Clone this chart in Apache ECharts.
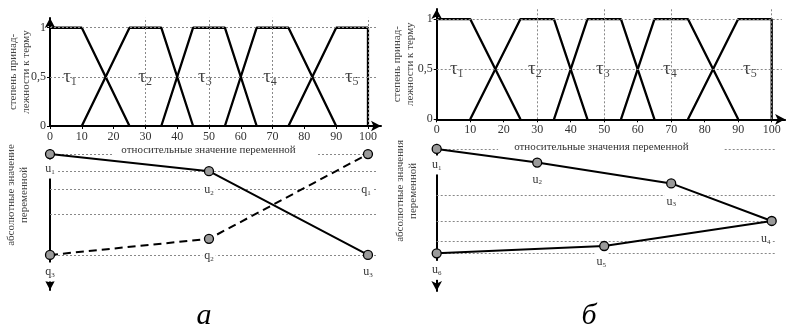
<!DOCTYPE html>
<html><head><meta charset="utf-8">
<script src="https://cdn.jsdelivr.net/npm/echarts@6/dist/echarts.min.js"></script>
<style>html,body{margin:0;padding:0;background:#fff}#c{width:791px;height:331px}</style>
</head><body><div id="c"></div>
<script>
// ---------------- data ----------------
const xTicks = [0, 10, 20, 30, 40, 50, 60, 70, 80, 90, 100];
const yTicks = [0, 0.5, 1];
// membership functions (terms)
const tau1X = [0, 10, 25],          tau1Y = [1, 1, 0];
const tau2X = [10, 25, 35, 45],     tau2Y = [0, 1, 1, 0];
const tau3X = [35, 45, 55, 65],     tau3Y = [0, 1, 1, 0];
const tau4X = [55, 65, 75, 90],     tau4Y = [0, 1, 1, 0];
const tau5X = [75, 90, 100, 100],   tau5Y = [0, 1, 1, 0];
const tauNames = ['1', '2', '3', '4', '5'];
const tauLabelXA = [6.3, 29.9, 48.7, 69.2, 94.9];
const tauLabelXB = [6, 29.3, 49.6, 69.6, 93.5];
const tauLabelY = 0.5;
// panel а, absolute values
const uAX = [0, 50, 100], uAY = [100, 83, 0], uANames = ['1', '2', '3'];
const qAX = [0, 50, 100], qAY = [0, 16, 100], qANames = ['3', '2', '1'];
// panel б, absolute values
const uBX = [0, 30, 70, 100, 50, 0], uBY = [100, 87, 67, 31, 7, 0], uBNames = ['1', '2', '3', '4', '5', '6'];
// reference (dotted) lines
const vGrid = [30, 50, 70, 100];
const hGridTop = [0.5, 1];
const hGridA = [100, 83, 65, 40, 0];
const hGridB = [100, 56, 31, 12, 0];

// ---------------- styles / layout ----------------
const FONT = 'Liberation Serif';
const labelOffA_u = [[0, 15], [0, 19], [0, 17]];
const labelOffA_q = [[0, 17], [0, 17], [-2, 36]];
const labelOffB_u = [[0, 16], [0, 17], [0, 18], [-6, 18], [-3, 16], [0, 17]];

function pts(xs, ys) { return xs.map((x, i) => [x, ys[i]]); }

function tauSeries(xs, ys, gi) {
  return { type: 'line', xAxisIndex: gi, yAxisIndex: gi, data: pts(xs, ys), symbol: 'none',
    lineStyle: { color: '#000', width: 2.3 }, z: 3, silent: true, animation: false };
}
function tauLabels(xsLab, gi) {
  return { type: 'scatter', xAxisIndex: gi, yAxisIndex: gi, z: 4, silent: true, animation: false,
    data: xsLab.map(x => [x, tauLabelY]), symbolSize: 1, itemStyle: { color: 'rgba(0,0,0,0)' },
    label: { show: true, position: 'inside', formatter: p => 'τ{s|' + tauNames[p.dataIndex] + '}',
      fontFamily: FONT, fontSize: 19, color: '#111', lineHeight: 22, backgroundColor: '#fff', padding: [0, 7],
      rich: { s: { fontFamily: FONT, fontSize: 12, lineHeight: 12, verticalAlign: 'bottom', color: '#111' } } } };
}
function ptSeries(xs, ys, names, letter, offs, gi, dashed) {
  return { type: 'line', xAxisIndex: gi, yAxisIndex: gi, clip: false, z: 5, animation: false, silent: true,
    data: xs.map((x, i) => ({ value: [x, ys[i]], label: { offset: offs[i] } })),
    symbol: 'circle', symbolSize: 9, showAllSymbol: true,
    itemStyle: { color: '#9a9a9a', borderColor: '#000', borderWidth: 1.3 },
    lineStyle: { color: '#000', width: 2, type: dashed ? [8, 5] : 'solid' },
    label: { show: true, position: 'inside', formatter: p => letter + '{s|' + names[p.dataIndex] + '}',
      fontFamily: FONT, fontSize: 12, lineHeight: 13, color: '#333', backgroundColor: '#fff', padding: [3, 2],
      rich: { s: { fontFamily: FONT, fontSize: 7, lineHeight: 7, verticalAlign: 'bottom', color: '#333' } } } };
}
function gridLines(gi, segs) {
  return { type: 'line', xAxisIndex: gi, yAxisIndex: gi, data: [], z: 1, silent: true, animation: false,
    markLine: { silent: true, animation: false, symbol: ['none', 'none'], label: { show: false },
      lineStyle: { type: [2, 2], color: '#888', width: 1 }, emphasis: { disabled: true },
      data: segs.map(s => [{ coord: s[0] }, { coord: s[1] }]) } };
}
function topX(gi, name, pad, gap) {
  return { gridIndex: gi, type: 'value', min: 0, max: gi === 0 ? 104.1 : 104, z: 5,
    axisLine: { show: true, onZero: false, symbol: ['none', 'arrow'], symbolSize: [8, 10], lineStyle: { color: '#000', width: 2 } },
    axisTick: { show: true, customValues: xTicks, length: 3, lineStyle: { color: '#000', width: 1 } },
    axisLabel: { customValues: xTicks, fontFamily: FONT, fontSize: 12, color: '#333', margin: 5 },
    splitLine: { show: false },
    name: name, nameLocation: 'middle', nameGap: gap, nameMoveOverlap: false,
    nameTextStyle: { fontFamily: FONT, fontSize: 11, color: '#333', backgroundColor: '#fff', padding: pad } };
}
function topY(gi, gap) {
  return { gridIndex: gi, type: 'value', min: 0, max: 1.1,
    axisLine: { show: true, onZero: false, symbol: ['none', 'arrow'], symbolSize: [8, 10], lineStyle: { color: '#000', width: 2 } },
    axisTick: { show: true, customValues: yTicks, length: 3, lineStyle: { color: '#000', width: 1 } },
    axisLabel: { customValues: yTicks, formatter: v => String(v).replace('.', ','), fontFamily: FONT, fontSize: 12, color: '#333', margin: 4 },
    splitLine: { show: false },
    name: 'степень принад-\nлежности к терму', nameLocation: 'middle', nameRotate: 90, nameGap: gap, nameMoveOverlap: false,
    nameTextStyle: { fontFamily: FONT, fontSize: 11, lineHeight: 13, color: '#444' } };
}
function botX(gi, max) {
  return { gridIndex: gi, type: 'value', min: 0, max: max, show: false };
}
function botY(gi, min, name, gap, shift) {
  return { gridIndex: gi, type: 'value', min: min, max: 104,
    axisLine: { show: true, onZero: false, symbol: ['arrow', 'none'], symbolSize: [8, 10], lineStyle: { color: '#000', width: 2 } },
    axisTick: { show: false }, axisLabel: { show: false }, splitLine: { show: false },
    name: name, nameLocation: 'middle', nameRotate: 90, nameGap: gap, nameMoveOverlap: false,
    nameTextStyle: { fontFamily: FONT, fontSize: 11, lineHeight: 13, color: '#444', padding: [0, 0, 0, shift] } };
}

const segTopA = vGrid.map(x => [[x, 0], [x, 1.1]]).concat(hGridTop.map(y => [[0, y], [103, y]]));
const segTopB = vGrid.map(x => [[x, 0], [x, 1.1]]).concat(hGridTop.map(y => [[0, y], [103, y]]));
const segBotA = vGrid.map(x => [[x, -28], [x, 114]]).concat(hGridA.map(y => [[0, y], [y === 100 ? 100 : 103, y]]));
const segBotB = vGrid.map(x => [[x, -28], [x, 108]]).concat(hGridB.map(y => [[0, y], [101, y]]));

const option = {
  backgroundColor: '#fff',
  animation: false,
  grid: [
    { left: 50, top: 17.9, width: 331, height: 108.1 },
    { left: 50, top: 150, width: 331, height: 140 },
    { left: 436.7, top: 9, width: 348.4, height: 110.3 },
    { left: 436.7, top: 144.8, width: 348.4, height: 146.2 }
  ],
  xAxis: [
    topX(0, 'относительные значение переменной', [0, 22, 0, 8], 19),
    botX(1, 104.1),
    topX(2, 'относительные значения переменной', [0, 35, 0, 16], 22),
    botX(3, 104)
  ],
  yAxis: [
    topY(0, 17),
    botY(1, -34.7, 'абсолютные значение\nпеременной', 19, 50),
    topY(2, 20),
    botY(3, -36.1, 'абсолютные значения\nпеременной', 17, 54)
  ],
  graphic: [
    { type: 'text', x: 204, y: 331, silent: true,
      style: { text: 'а', font: 'italic 30px "Liberation Serif"', fill: '#000', textAlign: 'center', textVerticalAlign: 'bottom', align: 'center', verticalAlign: 'bottom' } },
    { type: 'text', x: 589, y: 331, silent: true,
      style: { text: 'б', font: 'italic 30px "Liberation Serif"', fill: '#000', textAlign: 'center', textVerticalAlign: 'bottom', align: 'center', verticalAlign: 'bottom' } }
  ],
  series: [
    gridLines(0, segTopA), gridLines(1, segBotA), gridLines(2, segTopB), gridLines(3, segBotB),
    tauSeries(tau1X, tau1Y, 0), tauSeries(tau2X, tau2Y, 0), tauSeries(tau3X, tau3Y, 0), tauSeries(tau4X, tau4Y, 0), tauSeries(tau5X, tau5Y, 0),
    tauSeries(tau1X, tau1Y, 2), tauSeries(tau2X, tau2Y, 2), tauSeries(tau3X, tau3Y, 2), tauSeries(tau4X, tau4Y, 2), tauSeries(tau5X, tau5Y, 2),
    tauLabels(tauLabelXA, 0), tauLabels(tauLabelXB, 2),
    ptSeries(uAX, uAY, uANames, 'u', labelOffA_u, 1, false),
    ptSeries(qAX, qAY, qANames, 'q', labelOffA_q, 1, true),
    ptSeries(uBX, uBY, uBNames, 'u', labelOffB_u, 3, false)
  ]
};
const chart = echarts.init(document.getElementById('c'), null, { renderer: 'canvas' });
chart.setOption(option);
</script></body></html>
